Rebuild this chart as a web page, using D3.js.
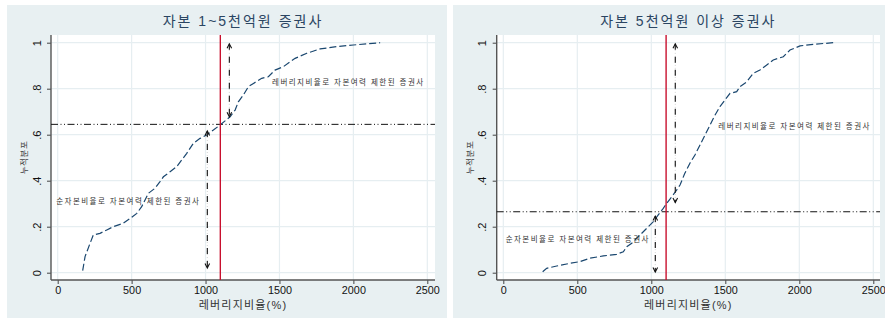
<!DOCTYPE html>
<html>
<head>
<meta charset="utf-8">
<script src="https://cdn.jsdelivr.net/npm/d3@7"></script>
<style>
  html, body { margin: 0; padding: 0; background: #ffffff; }
  svg { display: block; }
  text { font-family: "Liberation Sans", Arial, "Noto Sans CJK KR", sans-serif; }
</style>
</head>
<body>
<svg id="chart" width="885" height="322"></svg>
<script>
// Cumulative distribution of leverage ratio (%), two capital-size groups
const panelTitles = ["자본 1~5천억원 증권사", "자본 5천억원 이상 증권사"];

// Group 1: capital 100~500 billion won  [leverage %, cumulative share]
const cdfSmall = [
  [169, 0.009], [185, 0.07], [219, 0.128], [241, 0.164], [286, 0.171],
  [332, 0.186], [376, 0.2], [444, 0.215], [501, 0.241], [535, 0.258],
  [568, 0.287], [613, 0.345], [658, 0.367], [692, 0.396], [715, 0.417],
  [760, 0.439], [805, 0.461], [839, 0.49], [873, 0.519], [918, 0.563],
  [963, 0.584], [1008, 0.599], [1053, 0.62], [1098, 0.642], [1166, 0.678],
  [1200, 0.707], [1222, 0.743], [1256, 0.773], [1290, 0.809], [1324, 0.823],
  [1380, 0.845], [1425, 0.852], [1470, 0.881], [1527, 0.896], [1572, 0.917],
  [1606, 0.932], [1685, 0.954], [1775, 0.973], [1888, 0.983], [2000, 0.99],
  [2181, 1.0]
];

// Group 2: capital 500 billion won and above
const cdfLarge = [
  [266, 0.004], [293, 0.019], [361, 0.029], [451, 0.041], [518, 0.048],
  [586, 0.063], [676, 0.073], [766, 0.08], [811, 0.091], [834, 0.113],
  [868, 0.128], [901, 0.15], [946, 0.178], [980, 0.2], [1014, 0.222],
  [1047, 0.251], [1081, 0.28], [1104, 0.302], [1138, 0.33], [1172, 0.36],
  [1194, 0.381], [1225, 0.43], [1261, 0.476], [1295, 0.512], [1329, 0.555],
  [1363, 0.599], [1397, 0.642], [1431, 0.686], [1464, 0.722], [1498, 0.751],
  [1532, 0.78], [1577, 0.787], [1599, 0.809], [1645, 0.83], [1689, 0.867],
  [1734, 0.881], [1780, 0.903], [1824, 0.925], [1892, 0.939], [1937, 0.968],
  [2005, 0.986], [2095, 0.993], [2230, 1.0]
];

// Regulatory reference: leverage limit (vertical) and crossing share (horizontal)
const leverageLimit = [1100, 1100];
const crossingShare = [0.645, 0.265];

// Double-headed arrows: [x, yFrom, yTo]
const arrowsSmall = [[1012, 0.616, 0.02], [1161, 0.995, 0.678]];
const arrowsLarge = [[1027, 0.246, 0.003], [1162, 0.995, 0.305]];

// Annotations: [x, y, text]
const notesSmall = [[1450, 0.826, "레버리지비율로 자본여력 제한된 증권사"], [-10, 0.309, "순자본비율로 자본여력 제한된 증권사"]];
const notesLarge = [[1453, 0.632, "레버리지비율로 자본여력 제한된 증권사"], [16, 0.142, "순자본비율로 자본여력 제한된 증권사"]];

const xTicks = [0, 500, 1000, 1500, 2000, 2500];
const yTicks = [0, 0.2, 0.4, 0.6, 0.8, 1];
const yTickLabels = ["0", ".2", ".4", ".6", ".8", "1"];
const xTitle = "레버리지비율(%)";
const yTitle = "누적분포";

const svg = d3.select("#chart");

const panels = [
  { box: [7, 5, 440, 313], plot: [51, 35, 435, 280], x0: 57.7, x1: 427.3,
    cdf: cdfSmall, arrows: arrowsSmall, notes: notesSmall, title: panelTitles[0],
    limit: leverageLimit[0], share: crossingShare[0] },
  { box: [453, 5, 432, 313], plot: [496.7, 35, 880, 280], x0: 503.3, x1: 873.3,
    cdf: cdfLarge, arrows: arrowsLarge, notes: notesLarge, title: panelTitles[1],
    limit: leverageLimit[1], share: crossingShare[1] }
];

panels.forEach(p => {
  const g = svg.append("g");
  const [pl, pt, pr, pb] = p.plot;

  g.append("rect").attr("x", p.box[0]).attr("y", p.box[1])
    .attr("width", p.box[2]).attr("height", p.box[3]).attr("fill", "#e8f0f2");
  g.append("rect").attr("x", pl).attr("y", pt)
    .attr("width", pr - pl).attr("height", pb - pt).attr("fill", "#ffffff");

  const x = d3.scaleLinear().domain([0, 2500]).range([p.x0, p.x1]);
  const y = d3.scaleLinear().domain([0, 1]).range([272.7, 42.7]);

  // grid
  g.selectAll(".gx").data(xTicks).join("line")
    .attr("x1", d => x(d)).attr("x2", d => x(d)).attr("y1", pt).attr("y2", pb)
    .attr("stroke", "#e6eef1").attr("stroke-width", 1.2);
  g.selectAll(".gy").data(yTicks).join("line")
    .attr("x1", pl).attr("x2", pr).attr("y1", d => y(d)).attr("y2", d => y(d))
    .attr("stroke", "#e6eef1").attr("stroke-width", 1.2);

  // x axis
  const xa = g.append("g").attr("transform", `translate(0,${pb})`)
    .call(d3.axisBottom(x).tickValues(xTicks).tickFormat(d3.format("d"))
      .tickSize(4).tickPadding(2).tickSizeOuter(0));
  xa.select(".domain").remove();
  xa.selectAll("line").attr("stroke", "#444");
  xa.selectAll("text").attr("font-size", 10.8).attr("fill", "#111")
    .attr("font-family", "'Liberation Sans', Arial, sans-serif");
  g.append("line").attr("x1", pl).attr("x2", pr).attr("y1", pb).attr("y2", pb)
    .attr("stroke", "#555").attr("stroke-width", 1.4);

  // y axis
  const ya = g.append("g").attr("transform", `translate(${pl},0)`)
    .call(d3.axisLeft(y).tickValues(yTicks).tickSize(4).tickFormat((d, i) => yTickLabels[i]));
  ya.select(".domain").remove();
  ya.selectAll("line").attr("stroke", "#444");
  ya.selectAll("text").attr("font-size", 11).attr("fill", "#111")
    .attr("x", 0).attr("dy", 0).attr("text-anchor", "middle")
    .attr("dominant-baseline", "middle")
    .attr("transform", "translate(-13.3,0) rotate(-90)");
  g.append("line").attr("x1", pl).attr("x2", pl).attr("y1", pt).attr("y2", pb)
    .attr("stroke", "#555").attr("stroke-width", 1.4);

  // axis titles
  g.append("text").attr("x", (pl + pr) / 2).attr("y", 309)
    .attr("text-anchor", "middle").attr("font-size", 11).attr("fill", "#333")
    .attr("letter-spacing", 1.2)
    .attr("font-family", "'Noto Sans CJK KR', sans-serif")
    .text(xTitle);
  g.append("text").attr("transform", `translate(${pl - 26},${(pt + pb) / 2}) rotate(-90)`)
    .attr("text-anchor", "middle").attr("dominant-baseline", "middle")
    .attr("font-size", 8.5).attr("fill", "#444").attr("letter-spacing", 0.6)
    .attr("font-family", "'Noto Sans CJK KR', sans-serif")
    .text(yTitle);

  // panel title
  g.append("text").attr("x", (pl + pr) / 2).attr("y", 26)
    .attr("text-anchor", "middle").attr("font-size", 14).attr("fill", "#2a4562")
    .attr("letter-spacing", 2)
    .attr("font-family", "'Noto Sans CJK KR', sans-serif")
    .text(p.title);

  // horizontal crossing share line
  g.append("line").attr("x1", pl).attr("x2", pr)
    .attr("y1", y(p.share)).attr("y2", y(p.share))
    .attr("stroke", "#111").attr("stroke-width", 1)
    .attr("stroke-dasharray", "7,2.5,1,2.5,1,2.5");

  // CDF curve
  g.append("path").datum(p.cdf)
    .attr("d", d3.line().x(d => x(d[0])).y(d => y(d[1])))
    .attr("fill", "none").attr("stroke", "#1a476f").attr("stroke-width", 1.2)
    .attr("stroke-dasharray", "7,3");

  // leverage limit line
  g.append("line").attr("x1", x(p.limit)).attr("x2", x(p.limit))
    .attr("y1", pt).attr("y2", pb)
    .attr("stroke", "#c8102e").attr("stroke-width", 1.4);

  // arrows
  p.arrows.forEach(a => {
    const ax = x(a[0]), ya1 = y(a[1]), ya2 = y(a[2]);
    g.append("line").attr("x1", ax).attr("x2", ax).attr("y1", ya1).attr("y2", ya2)
      .attr("stroke", "#c8c8c8").attr("stroke-width", 0.8).attr("stroke-dasharray", "1,2");
    g.append("line").attr("x1", ax).attr("x2", ax).attr("y1", ya1).attr("y2", ya2)
      .attr("stroke", "#111").attr("stroke-width", 1.1).attr("stroke-dasharray", "6,7");
    [[ya1, ya2 > ya1 ? 1 : -1], [ya2, ya1 > ya2 ? 1 : -1]].forEach(([tip, dir]) => {
      g.append("path")
        .attr("d", `M${ax - 2.3},${tip + dir * 4.5}L${ax},${tip}L${ax + 2.3},${tip + dir * 4.5}`)
        .attr("fill", "none").attr("stroke", "#111").attr("stroke-width", 1.1);
    });
  });

  // annotations
  p.notes.forEach(n => {
    g.append("text").attr("x", x(n[0])).attr("y", y(n[1]))
      .attr("dominant-baseline", "middle").attr("font-size", 7.5)
      .attr("letter-spacing", 1.45).attr("fill", "#333")
      .attr("font-family", "'Noto Sans CJK KR', sans-serif")
      .text(n[2]);
  });
});
</script>
</body>
</html>
